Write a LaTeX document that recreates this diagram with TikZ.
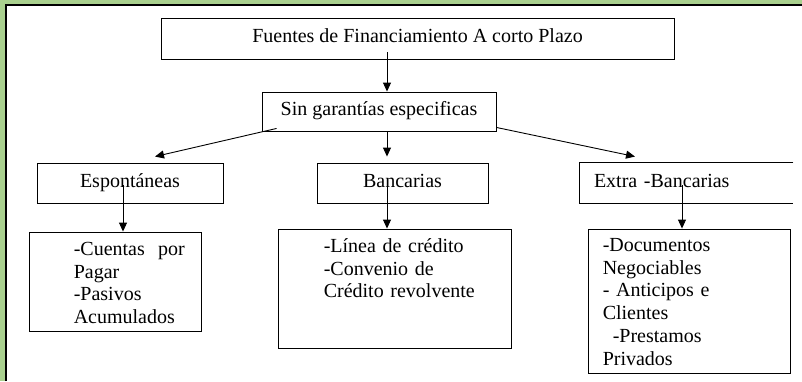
\documentclass[tikz,border=0pt]{standalone}
\usepackage{fontspec}
\setmainfont{Liberation Serif}
\usetikzlibrary{arrows.meta}
\definecolor{framegreen}{RGB}{169,208,142}

\begin{document}
\begin{tikzpicture}[x=1pt,y=-1pt,
    box/.style={draw, line width=0.9pt, inner sep=0pt,
      font=\fontsize{20}{22.7}\selectfont, text height=14pt, text depth=6pt},
    txt/.style={inner sep=0pt, align=left, text width=170pt, anchor=base west,
      font=\fontsize{20}{22.7}\selectfont},
    arr/.style={-{Triangle[width=8pt,length=9pt]}, line width=0.9pt}]
    \useasboundingbox (0,0) rectangle (802,381);
    %Frame
    \fill[framegreen] (0,0) rectangle (802,381);
    \fill[white] (6,5) rectangle (802,381);
    \draw[line width=1.8pt] (6.2,381) -- (6.2,4.6) -- (802,4.6);

    %Boxes
    \node[box, minimum width=513, minimum height=41] (Fuentes) at (417.5,38.5)
      {Fuentes de Financiamiento A corto Plazo};
    \node[box, minimum width=234, minimum height=39] (Sin) at (379,111.5)
      {Sin garantías especificas};
    \node[box, minimum width=186, minimum height=40] (Espontaneas) at (130,183)
      {Espontáneas};
    \node[box, minimum width=171, minimum height=40] (Bancarias) at (402.5,183)
      {Bancarias};
    \node[box, draw=none, minimum height=40, inner xsep=14pt, text width=185pt,
      align=left] (Extra) at (686.5,183) {Extra -Bancarias};
    \draw[line width=0.9pt] (Extra.north east) -- (Extra.north west)
      -- (Extra.south west) -- (Extra.south east);

    \node[box, minimum width=172, minimum height=99] (Cuentas) at (115,281.5) {};
    \node[box, minimum width=233, minimum height=119.5] (Linea) at (394.5,288.75) {};
    \node[box, minimum width=202, minimum height=144] (Documentos) at (689,301) {};

    %Texts
    \node[txt] (CuentasText) at ([shift={(45,24)}]Cuentas.north west)
      {-Cuentas~~por\\Pagar\\-Pasivos\\Acumulados};
    \node[txt] (LineaText) at ([shift={(46,24)}]Linea.north west)
      {-Línea de crédito\\-Convenio de\\Crédito revolvente};
    \node[txt] (DocumentosText) at ([shift={(15,23)}]Documentos.north west)
      {-Documentos\\Negociables\\- Anticipos e\\Clientes\\\hspace*{10pt}-Prestamos\\Privados};

    %Arrows
    \draw[arr] ([shift={(-30.5,-7)}]Fuentes.south) -- ([xshift=8pt]Sin.north);
    \draw[arr] ([shift={(15,-3)}]Sin.south west) -- ([shift={(25,-6)}]Espontaneas.north);
    \draw[arr] ([xshift=8pt]Sin.south) -- ([shift={(-15.5,-6)}]Bancarias.north);
    \draw[arr] ([shift={(0,-4)}]Sin.south east) -- ([shift={(-51.5,-6)}]Extra.north);
    \draw[arr] ([shift={(-7,-18)}]Espontaneas.south) -- ([xshift=8pt]Cuentas.north);
    \draw[arr] ([shift={(-15.5,-18)}]Bancarias.south) -- ([xshift=-7.5pt]Linea.north);
    \draw[arr] ([shift={(-4.5,-18)}]Extra.south) -- ([xshift=-7pt]Documentos.north);
  \end{tikzpicture}
\end{document}
